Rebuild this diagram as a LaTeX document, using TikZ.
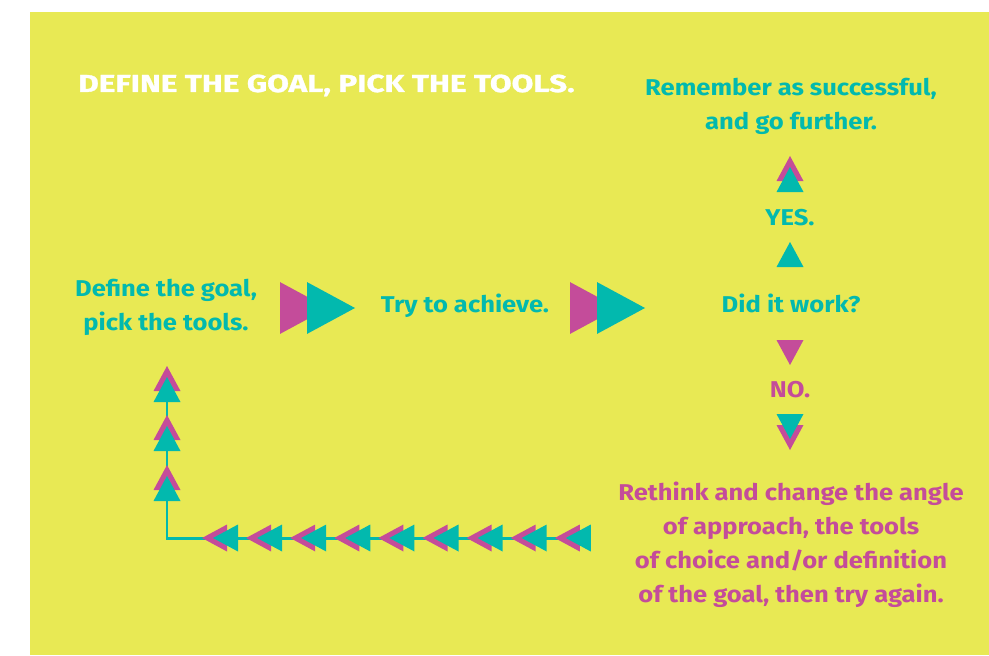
\documentclass[tikz,border=0pt]{standalone}
\usepackage{fontspec}
\setmainfont{Fira Sans}[FakeStretch=1.12]
\newfontfamily\titlefont{Fira Sans}[FakeStretch=1.28, FakeBold=1.2]
\usetikzlibrary{positioning}
\definecolor{lemon}{RGB}{232,233,84}
\definecolor{turq}{RGB}{2,185,174}
\definecolor{orchid}{RGB}{196,76,154}

\begin{document}
\begin{tikzpicture}[
    x=0.02cm, y=-0.02cm,
    txt/.style={font=\fontsize{13}{19.4}\selectfont\bfseries, align=center, inner sep=0},
    tealtxt/.style={txt, text=turq},
    pinktxt/.style={txt, text=orchid},
    loopline/.style={turq, line width=1.7pt},
    pics/tri/.style={code={\fill[#1] (0,0) -- (-25,13.5) -- (-25,-13.5) -- cycle;}},
    pics/duo/.style={code={
        \fill[orchid] (0,0) -- (-25,13.5) -- (-25,-13.5) -- cycle;
        \fill[turq] (-11,0) -- (-36,13.5) -- (-36,-13.5) -- cycle;}}
]
\useasboundingbox (0,0) rectangle (989,655);
\fill[lemon] (30,12) rectangle (989,655);

% Title
\node[txt, text=white, font=\fontsize{14}{16}\selectfont\titlefont\bfseries, anchor=base west] (title) at (78,92) {DEFINE THE GOAL, PICK THE TOOLS.};

% Main row
\node[tealtxt] (define) at (166,307) {Define the goal,\\pick the tools.};
\node[tealtxt] (try) at (465,306) {Try to achieve.};
\node[tealtxt] (work) at (791,303) {Did it work?};
\pic[scale=1.92] at (328,308) {tri=orchid};
\pic[scale=1.92] at (355,308) {tri=turq};
\pic[scale=1.92] at (618,308) {tri=orchid};
\pic[scale=1.92] at (645,308) {tri=turq};

% Yes branch
\node[tealtxt] (yes) at (790,218) {YES.};
\node[tealtxt] (remember) at (791,106) {Remember as successful,\\and go further.};
\pic[rotate=90] at (790,242) {tri=turq};
\pic[rotate=90] at (790,156) {duo};

% No branch
\node[pinktxt] (no) at (790,390) {NO.};
\node[pinktxt] (rethink) at (791,545) {Rethink and change the angle\\of approach, the tools\\of choice and/or definition\\of the goal, then try again.};
\pic[rotate=-90] at (790,365) {tri=orchid};
\pic[rotate=-90] at (790,450) {duo};

% Loop back
\coordinate (loopend) at (589,538);
\coordinate (corner) at (167,538);
\coordinate (looptop) at (167,380);
\draw[loopline] (loopend) -- (corner) -- (looptop);
\foreach \k in {0,...,8}
    \pic[rotate=180] at (202+44.1*\k,538) {duo};
\foreach \y in {366,415,465}
    \pic[rotate=90] at (167,\y) {duo};

\end{tikzpicture}
\end{document}
